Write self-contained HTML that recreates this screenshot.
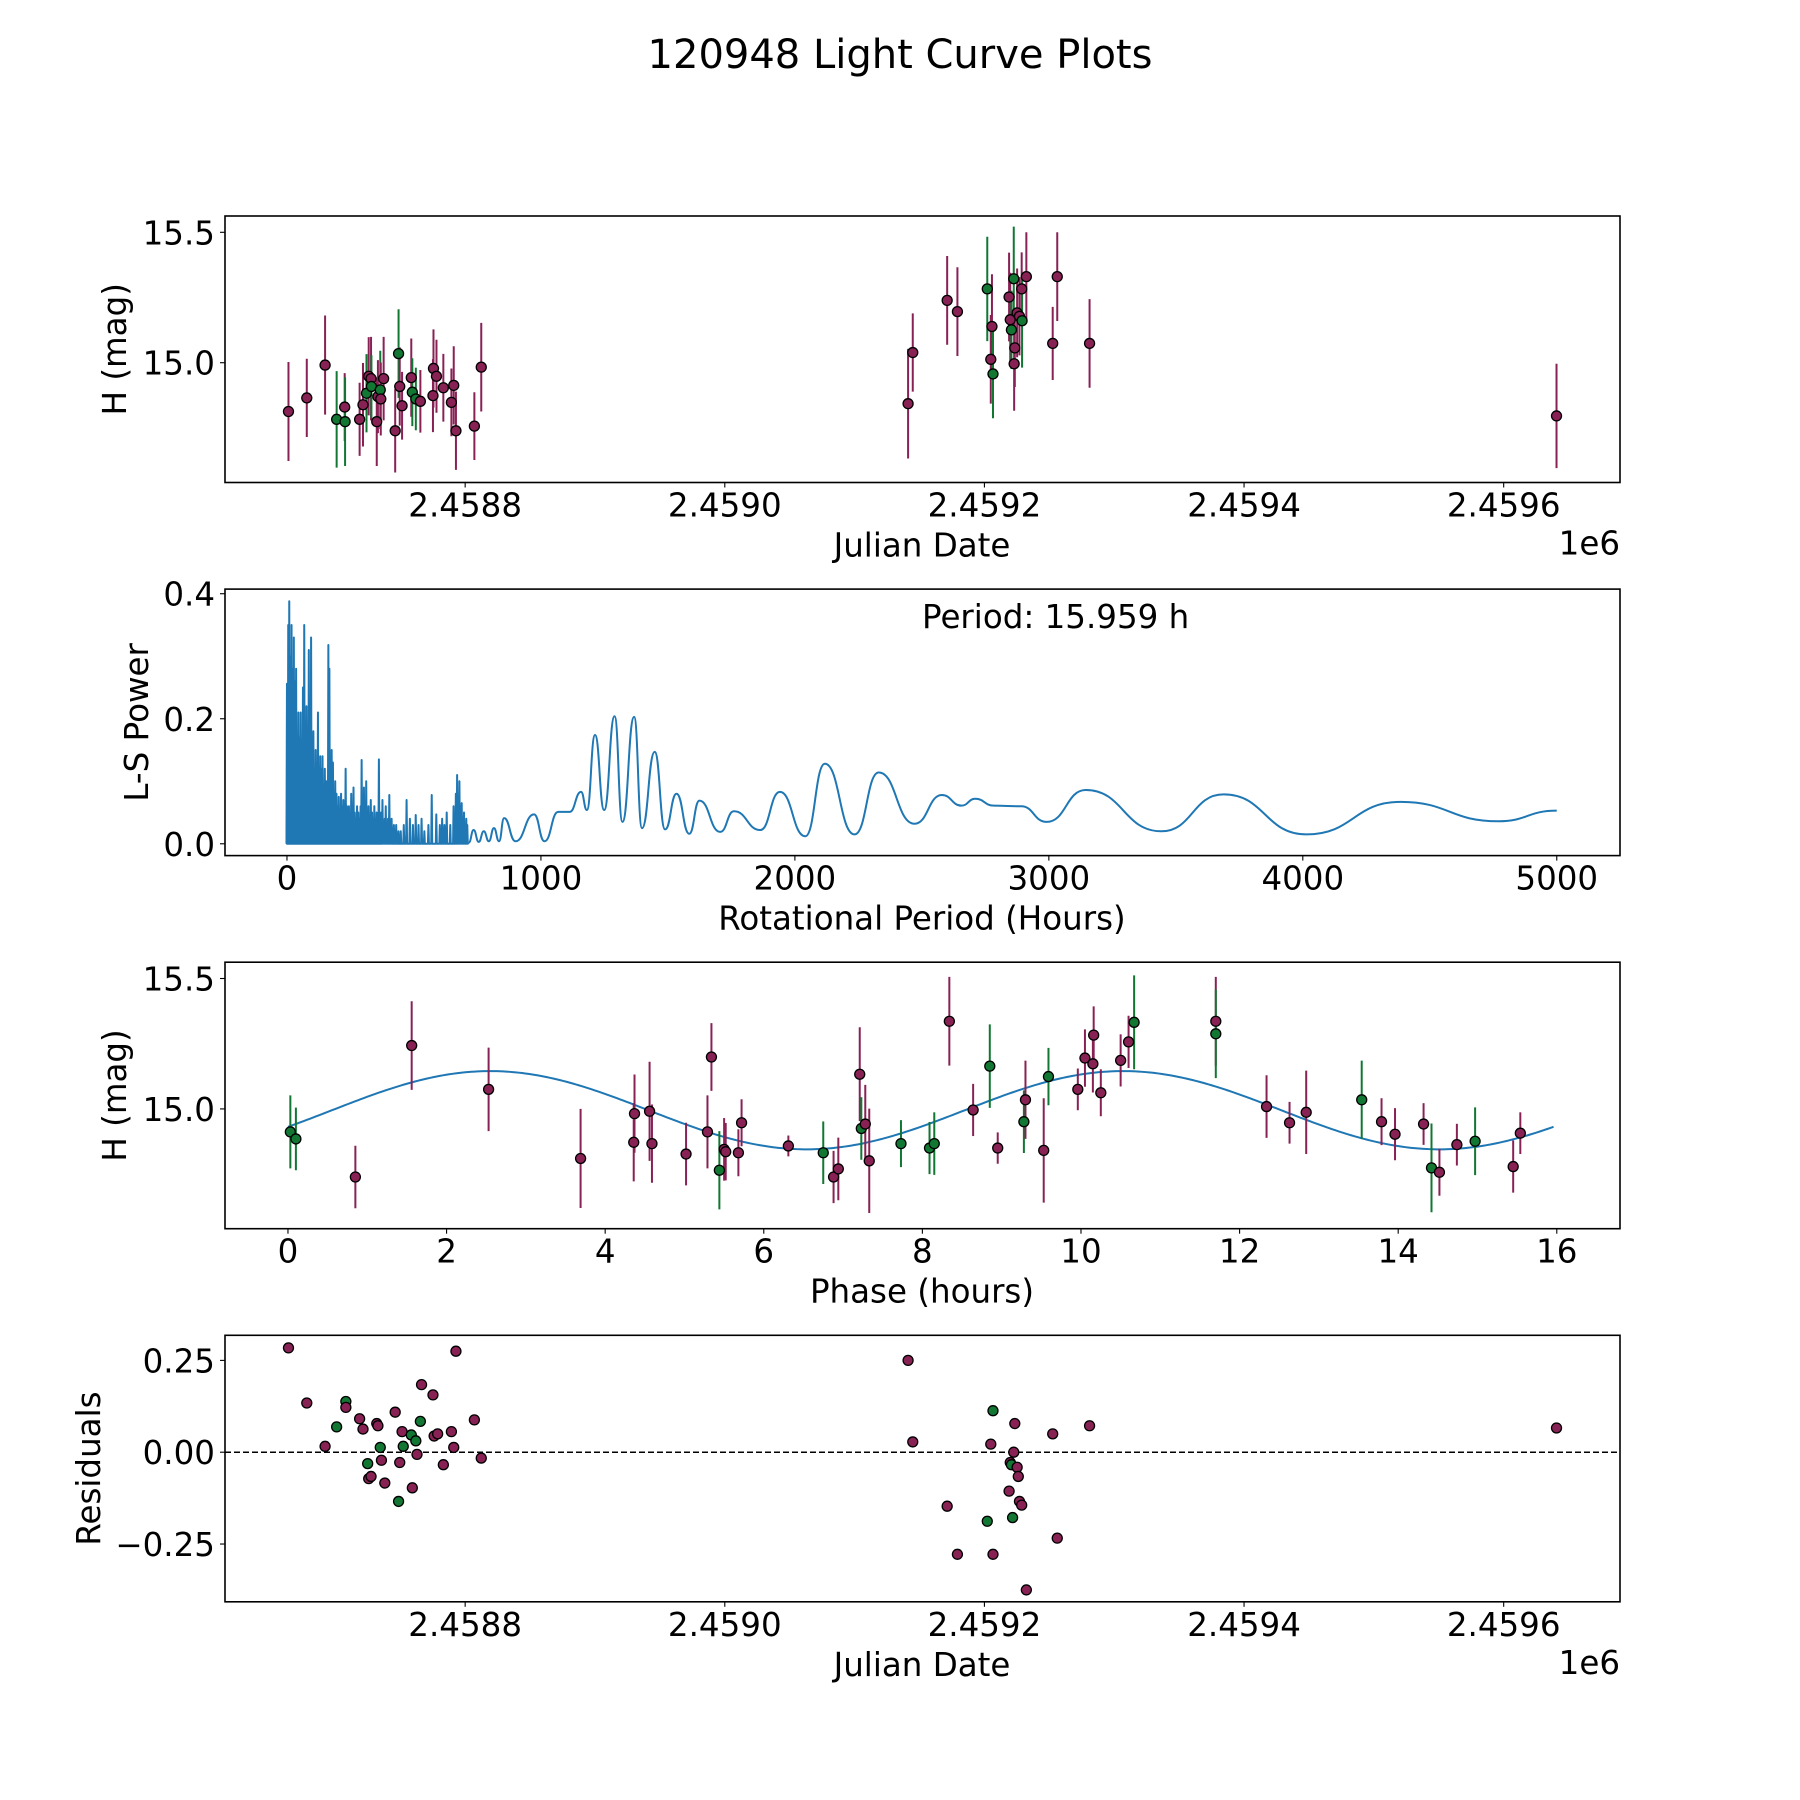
<!DOCTYPE html>
<html><head><meta charset="utf-8"><style>
html,body{margin:0;padding:0;background:#fff}
svg{display:block;font-family:"DejaVu Sans","Liberation Sans",sans-serif}
</style></head><body>
<svg id="fig" width="1800" height="1800" viewBox="0 0 1800 1800" xmlns="http://www.w3.org/2000/svg">
<rect width="1800" height="1800" fill="#fff"/>
<text x="900" y="68" font-size="40" text-anchor="middle">120948 Light Curve Plots</text>
</svg>
<script>
// ---- Panel 1: light curve (JD, mag, err, filter) ----
const lcJD=[2458663.9,2458678,2458692.1,2458701,2458707.2,2458707.5,2458718.7,2458721.3,2458724,2458725.7,2458727.5,2458727.8,2458731.9,2458732.8,2458734.6,2458735,2458737.2,2458746.1,2458748.7,2458749.6,2458751.4,2458758.5,2458759.3,2458762,2458765.5,2458775.2,2458775.6,2458777.9,2458783.2,2458789.4,2458791.2,2458792.9,2458807.1,2458812.4,2459141.2,2459144.8,2459171.3,2459179.2,2459202.2,2459204.9,2459205.8,2459206.6,2459219,2459219.9,2459220.8,2459222.6,2459222.9,2459223.4,2459225.2,2459227,2459228.7,2459229,2459232.3,2459252.6,2459256.1,2459281,2459640.7];
const lcMag=[14.813,14.865,14.991,14.783,14.830,14.774,14.783,14.839,14.883,14.948,14.939,14.909,14.774,14.870,14.896,14.861,14.939,14.739,15.035,14.909,14.835,14.943,14.887,14.861,14.852,14.874,14.978,14.948,14.904,14.848,14.913,14.739,14.757,14.983,14.843,15.039,15.239,15.196,15.283,15.013,15.139,14.957,15.252,15.165,15.126,15.322,14.996,15.057,15.191,15.178,15.283,15.161,15.330,15.074,15.330,15.074,14.796];
const lcErr=[0.19,0.15,0.19,0.185,0.13,0.17,0.14,0.16,0.15,0.15,0.16,0.12,0.17,0.14,0.15,0.14,0.16,0.16,0.17,0.15,0.13,0.15,0.13,0.12,0.12,0.14,0.15,0.14,0.13,0.13,0.15,0.15,0.13,0.17,0.21,0.15,0.17,0.17,0.2,0.17,0.2,0.17,0.17,0.18,0.15,0.2,0.18,0.15,0.17,0.15,0.14,0.18,0.17,0.14,0.17,0.17,0.2];
const lcFilt=["m","m","m","g","m","g","m","m","g","m","m","g","m","m","g","m","m","m","g","m","m","m","g","g","m","m","m","m","m","m","m","m","m","m","m","m","m","m","g","m","m","g","m","m","g","g","m","m","m","m","m","g","m","m","m","m","m"];
// ---- Panel 2: periodogram ----
const lsDensePeriod=[0,2,5,7,9,12,14,18,21,24,27,30,33,36,40,45,50,54,59,63,68,72,77,81,86,90,95,99,104,108,113,117,122,126,131,135,140,145,149,155,160,163,167,171,176,181,185,190,195,200,204,208,213,218,222,227,231,236,240,244,249,253,258,262,267,271,276,281,285,290,294,299,303,308,312,317,321,326,330,335,339,344,348,353,357,362,366,371,376,380,385,389,394,398,403,412,421,430,439,448,460,471,484,496,507,518,530,541,557,570,588,602,611,620,629,643,656,665,670,674,679,683,688,692,697,701,706,710];
const lsDensePower=[0.256,0.20,0.35,0.25,0.388,0.22,0.30,0.35,0.20,0.28,0.33,0.18,0.26,0.28,0.15,0.21,0.17,0.21,0.16,0.25,0.35,0.14,0.22,0.17,0.31,0.12,0.33,0.15,0.18,0.11,0.15,0.13,0.21,0.10,0.14,0.12,0.14,0.09,0.12,0.10,0.08,0.318,0.28,0.09,0.15,0.13,0.07,0.10,0.08,0.06,0.075,0.05,0.08,0.06,0.07,0.05,0.12,0.06,0.05,0.06,0.04,0.08,0.05,0.09,0.05,0.04,0.06,0.05,0.04,0.06,0.134,0.05,0.09,0.04,0.10,0.05,0.06,0.04,0.07,0.05,0.04,0.06,0.03,0.05,0.04,0.135,0.04,0.05,0.07,0.03,0.04,0.06,0.03,0.04,0.078,0.04,0.03,0.03,0.02,0.02,0.03,0.07,0.04,0.03,0.046,0.03,0.04,0.02,0.03,0.078,0.047,0.03,0.04,0.03,0.05,0.03,0.06,0.08,0.11,0.07,0.10,0.06,0.065,0.04,0.05,0.03,0.04,0.03];
const lsSmoothPeriod=[716,735,755,775,795,815,835,855,900,973,1014,1068,1113,1158,1181,1213,1249,1290,1321,1367,1398,1448,1489,1534,1584,1624,1706,1760,1864,1941,2041,2118,2235,2330,2471,2579,2656,2710,2783,2891,2991,3145,3443,3688,4014,4385,4769,5000];
const lsSmoothPower=[0.002,0.022,0.003,0.02,0.004,0.025,0.004,0.041,0.004,0.047,0.004,0.051,0.051,0.083,0.054,0.174,0.054,0.204,0.035,0.203,0.025,0.147,0.023,0.080,0.016,0.069,0.019,0.052,0.022,0.083,0.012,0.128,0.015,0.114,0.032,0.078,0.061,0.072,0.061,0.060,0.035,0.086,0.020,0.079,0.015,0.067,0.036,0.053];
const periodLabel="Period: 15.959 h";
// ---- Panel 3: phased ----
const phHours=[0.03,0.10,0.85,1.56,2.53,3.69,4.36,4.37,4.56,4.59,5.02,5.29,5.34,5.44,5.50,5.52,5.68,5.72,6.31,6.75,6.88,6.94,7.21,7.23,7.28,7.33,7.73,8.09,8.15,8.34,8.64,8.85,8.95,9.28,9.30,9.53,9.59,9.96,10.05,10.15,10.16,10.25,10.50,10.60,10.67,11.70,11.70,12.34,12.63,12.84,13.54,13.79,13.96,14.32,14.42,14.52,14.74,14.97,15.45,15.54];
const phMag=[14.912,14.885,14.739,15.243,15.075,14.810,14.872,14.982,14.991,14.867,14.827,14.912,15.199,14.765,14.845,14.836,14.832,14.947,14.858,14.832,14.739,14.770,15.133,14.925,14.942,14.801,14.867,14.850,14.867,15.336,14.996,15.164,14.850,14.951,15.035,14.841,15.124,15.075,15.195,15.173,15.283,15.062,15.186,15.257,15.332,15.336,15.288,15.009,14.947,14.987,15.035,14.951,14.903,14.942,14.774,14.757,14.863,14.876,14.779,14.907];
const phErr=[0.14,0.12,0.12,0.17,0.16,0.19,0.15,0.15,0.19,0.15,0.12,0.14,0.13,0.15,0.12,0.11,0.09,0.09,0.04,0.12,0.1,0.12,0.18,0.12,0.15,0.2,0.09,0.1,0.12,0.17,0.1,0.16,0.06,0.12,0.15,0.2,0.11,0.08,0.11,0.11,0.11,0.09,0.1,0.1,0.18,0.17,0.17,0.12,0.08,0.16,0.15,0.09,0.1,0.08,0.17,0.09,0.08,0.13,0.1,0.08];
const phFilt=["g","g","m","m","m","m","m","m","m","m","m","m","m","g","m","m","m","m","m","g","m","m","m","g","m","m","g","g","g","m","m","g","m","g","m","m","g","m","m","m","m","m","m","m","g","m","g","m","m","m","g","m","m","m","g","m","m","g","m","m"];
const fitParams=[14.995,0.15,0.555,7.98]; // offset, amplitude, phase0, half-period
const fitMaxHours=15.959;
// ---- Panel 4: residuals ----
const rsJD=[2458663.9,2458678,2458692.1,2458701,2458708.1,2458708.1,2458718.7,2458721.3,2458724.9,2458725.7,2458727.5,2458731.9,2458732.8,2458734.6,2458735.5,2458738.1,2458746.1,2458748.7,2458749.6,2458751.4,2458752.3,2458758.5,2458759.3,2458762,2458762.9,2458765.5,2458766.4,2458775.2,2458776.1,2458778.8,2458783.2,2458789.4,2458791.2,2458792.9,2458807.1,2458812.4,2459141.2,2459144.8,2459171.3,2459179.2,2459202.2,2459204.9,2459206.6,2459206.6,2459219,2459219.9,2459220.8,2459221.7,2459223.4,2459222.6,2459225.2,2459226.1,2459227,2459228.7,2459232.3,2459252.6,2459256.1,2459281,2459640.7];
const rsVal=[0.284,0.134,0.016,0.069,0.138,0.122,0.091,0.063,-0.031,-0.072,-0.066,0.078,0.072,0.013,-0.022,-0.084,0.109,-0.134,-0.028,0.056,0.016,0.047,-0.097,0.031,-0.006,0.084,0.184,0.156,0.044,0.050,-0.034,0.056,0.013,0.275,0.088,-0.016,0.250,0.028,-0.147,-0.278,-0.188,0.022,0.113,-0.278,-0.106,-0.028,-0.034,-0.178,0.078,0.000,-0.041,-0.066,-0.134,-0.144,-0.375,0.050,-0.234,0.072,0.066];
const rsFilt=["m","m","m","g","g","m","m","m","g","m","m","m","m","g","m","m","m","g","m","m","g","g","m","g","m","g","m","m","m","m","m","m","m","m","m","m","m","m","m","m","g","m","g","m","m","m","g","g","m","m","m","m","m","m","m","m","m","m","m"];
const jdTicks=[2458800,2459000,2459200,2459400,2459600];
const jdTickLabels=["2.4588","2.4590","2.4592","2.4594","2.4596"];

const NS="http://www.w3.org/2000/svg";
const svg=document.getElementById('fig');
const COL={m:"#882255",g:"#117733"};
const L=225,R=1620,H=266.5,FS=32.5;
const tops=[216,589.1,962.2,1335.3];
function mk(tag,attrs,parent){const e=document.createElementNS(NS,tag);for(const k in attrs)e.setAttribute(k,attrs[k]);(parent||svg).appendChild(e);return e;}
function lin(d0,d1,p0,p1){return v=>p0+(v-d0)/(d1-d0)*(p1-p0);}
function frame(i,g){mk('rect',{x:L,y:tops[i],width:R-L,height:H,fill:'none',stroke:'#000','stroke-width':1.6},g);}
function xticks(g,i,vals,labs,sx){const b=tops[i]+H;vals.forEach((v,k)=>{const x=sx(v);
 const t=mk('line',{x1:x,x2:x,y1:b,y2:b+5,stroke:'#000','stroke-width':1.1},g);
 
 const tx=mk('text',{x:x,y:b+34,'font-size':FS,'text-anchor':'middle'},g);tx.textContent=labs[k];
 });}
function yticks(g,i,vals,labs,sy){vals.forEach((v,k)=>{const y=sy(v);
 const t=mk('line',{x1:L-5,x2:L,y1:y,y2:y,stroke:'#000','stroke-width':1.1},g);
 
 const tx=mk('text',{x:L-10,y:y+12,'font-size':FS,'text-anchor':'end'},g);tx.textContent=labs[k];
 });}
function xlabel(g,i,txt,name){const t=mk('text',{x:922,y:tops[i]+H+74,'font-size':FS,'text-anchor':'middle'},g);t.textContent=txt;
 }
function ylabel(g,i,txt,x,name){const cy=tops[i]+H/2;const t=mk('text',{x:x,y:cy,'font-size':FS,'text-anchor':'middle',transform:`rotate(-90 ${x} ${cy})`},g);t.textContent=txt;
 }
function offset(g,i){const t=mk('text',{x:R,y:tops[i]+H+72,'font-size':FS,'text-anchor':'end'},g);t.textContent='1e6';
 }
function clip(i){const id='clip'+i;const c=mk('clipPath',{id:id});mk('rect',{x:L,y:tops[i],width:R-L,height:H},c);return `url(#${id})`;}
function dot(g,x,y,c,name){const d=mk('circle',{cx:x,cy:y,r:5,fill:c,stroke:'#000','stroke-width':1.3},g);
 }

const magY=i=>lin(14.5408,15.5625,tops[i]+H,tops[i]);
const sxJD=lin(2458615.0,2459689.6,L,R);

// Panel 1
{const g=mk('g',{});
 const sy=magY(0);const pg=mk('g',{'clip-path':clip(0)},g);
 lcJD.forEach((j,k)=>{const x=sxJD(j),c=COL[lcFilt[k]];
  const e=mk('line',{x1:x,x2:x,y1:sy(lcMag[k]-lcErr[k]),y2:sy(lcMag[k]+lcErr[k]),stroke:c,'stroke-width':2},pg);
  });
 lcJD.forEach((j,k)=>dot(pg,sxJD(j),sy(lcMag[k]),COL[lcFilt[k]],'light-curve-point'));
 frame(0,g);xticks(g,0,jdTicks,jdTickLabels,sxJD);yticks(g,0,[15.0,15.5],["15.0","15.5"],sy);
 xlabel(g,0,'Julian Date','x-axis-title');offset(g,0);ylabel(g,0,'H (mag)',126,'y-axis-title');}

// Panel 2
{const g=mk('g',{});
 const sx=lin(-244,5249,L,R),sy=lin(-0.0189,0.4074,tops[1]+H,tops[1]);
 let d='';lsDensePeriod.forEach((p,k)=>{const x=sx(p);d+=(k?'L':'M')+(x-0.5)+' '+sy(0)+'L'+x+' '+sy(lsDensePower[k])+'L'+(x+0.5)+' '+sy(0);});
 d+='L'+sx(lsSmoothPeriod[0])+' '+sy(lsSmoothPower[0]);
 const dl=mk('path',{d:d,fill:'none',stroke:'#1f77b4','stroke-width':2,'stroke-linejoin':'round'},g);
 
 let s='M'+sx(lsSmoothPeriod[0])+' '+sy(lsSmoothPower[0]);
 for(let k=1;k<lsSmoothPeriod.length;k++){const x0=sx(lsSmoothPeriod[k-1]),x1=sx(lsSmoothPeriod[k]),y0=sy(lsSmoothPower[k-1]),y1=sy(lsSmoothPower[k]);const m=(x0+x1)/2;
  s+=`C${m} ${y0} ${m} ${y1} ${x1} ${y1}`;}
 const sl=mk('path',{d:s,fill:'none',stroke:'#1f77b4','stroke-width':2},g);
 
 frame(1,g);xticks(g,1,[0,1000,2000,3000,4000,5000],["0","1000","2000","3000","4000","5000"],sx);
 yticks(g,1,[0,0.2,0.4],["0.0","0.2","0.4"],sy);
 const pt=mk('text',{x:922,y:628,'font-size':FS},g);pt.textContent=periodLabel;
 
 xlabel(g,1,'Rotational Period (Hours)','x-axis-title');ylabel(g,1,'L-S Power',148,'y-axis-title');}

// Panel 3
{const g=mk('g',{});
 const sx=lin(-0.794,16.797,L,R),sy=magY(2);const pg=mk('g',{'clip-path':clip(2)},g);
 let d='';for(let k=0;k<=400;k++){const t=fitMaxHours*k/400;const m=fitParams[0]+fitParams[1]*Math.sin(2*Math.PI*(t-fitParams[2])/fitParams[3]);d+=(k?'L':'M')+sx(t)+' '+sy(m);}
 const fl=mk('path',{d:d,fill:'none',stroke:'#1f77b4','stroke-width':2},pg);
 
 phHours.forEach((h,k)=>{const x=sx(h),c=COL[phFilt[k]];const e=mk('line',{x1:x,x2:x,y1:sy(phMag[k]-phErr[k]),y2:sy(phMag[k]+phErr[k]),stroke:c,'stroke-width':2},pg);
  });
 phHours.forEach((h,k)=>dot(pg,sx(h),sy(phMag[k]),COL[phFilt[k]],'phased-point'));
 frame(2,g);xticks(g,2,[0,2,4,6,8,10,12,14,16],["0","2","4","6","8","10","12","14","16"],sx);
 yticks(g,2,[15.0,15.5],["15.0","15.5"],sy);xlabel(g,2,'Phase (hours)','x-axis-title');ylabel(g,2,'H (mag)',126,'y-axis-title');}

// Panel 4
{const g=mk('g',{});
 const sy=lin(-0.4073,0.3183,tops[3]+H,tops[3]);const pg=mk('g',{'clip-path':clip(3)},g);
 const z=mk('line',{x1:L,x2:R,y1:sy(0),y2:sy(0),stroke:'#000','stroke-width':1.5,'stroke-dasharray':'6,3'},pg);
 
 rsJD.forEach((j,k)=>dot(pg,sxJD(j),sy(rsVal[k]),COL[rsFilt[k]],'residual-point'));
 frame(3,g);xticks(g,3,jdTicks,jdTickLabels,sxJD);yticks(g,3,[-0.25,0,0.25],["\u22120.25","0.00","0.25"],sy);
 xlabel(g,3,'Julian Date','x-axis-title');offset(g,3);ylabel(g,3,'Residuals',100,'y-axis-title');}
</script>
</body></html>
